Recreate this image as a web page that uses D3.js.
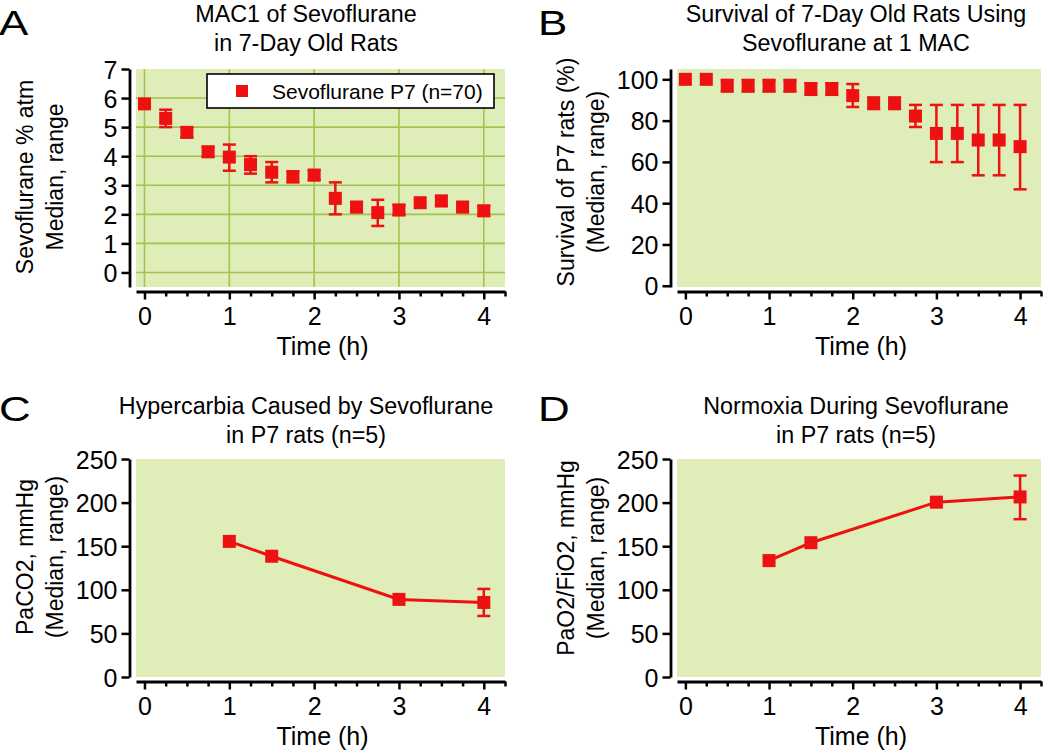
<!DOCTYPE html>
<html><head><meta charset="utf-8">
<script src="https://cdn.jsdelivr.net/npm/d3@7"></script>
<style>
body{margin:0;background:#fff}
svg{display:block}
text{font-family:"Liberation Sans",Arial,Helvetica,sans-serif;fill:#000}
</style>
</head><body>
<svg id="chart" width="1050" height="753"></svg>
<script>
// ---------------- DATA ----------------
const timeA = [0,0.25,0.5,0.75,1,1.25,1.5,1.75,2,2.25,2.5,2.75,3,3.25,3.5,3.75,4];
const macMedian = [5.8,5.3,4.82,4.15,3.97,3.71,3.45,3.3,3.35,2.55,2.25,2.06,2.15,2.4,2.46,2.25,2.12];
const macLow    = [5.8,5.0,4.65,3.98,3.5,3.4,3.1,3.1,3.18,2.0,2.08,1.6,1.98,2.4,2.29,2.08,1.95];
const macHigh   = [5.8,5.6,4.98,4.32,4.4,4.0,3.8,3.48,3.52,3.1,2.42,2.5,2.32,2.4,2.63,2.42,2.29];

const timeB = [0,0.25,0.5,0.75,1,1.25,1.5,1.75,2,2.25,2.5,2.75,3,3.25,3.5,3.75,4];
const survMedian = [100,100,96.9,96.9,96.9,96.9,95.3,95.3,92.1,88.4,88.4,82.2,73.8,73.8,70.6,70.6,67.4];
const survLow    = [100,100,94.1,94.1,94.1,94.1,92.5,92.5,86.6,85.6,85.6,76.9,59.9,59.9,53.5,53.5,46.7];
const survHigh   = [100,100,99.7,99.7,99.7,99.7,98.1,98.1,97.7,91.2,91.2,87.6,87.6,87.6,87.6,87.6,87.6];

const timeGas = [1,1.5,3,4];
const paco2Median = [155.5,138.5,89,85.5];
const paco2Low    = [155.5,138.5,89,70];
const paco2High   = [155.5,138.5,89,101];

const pao2Median = [133.5,154,200.5,206.5];
const pao2Low    = [133.5,154,200.5,181];
const pao2High   = [133.5,154,200.5,231];

const xTickValues = [0,1,2,3,4];
const xMinorTicks = [0.25,0.5,0.75,1.25,1.5,1.75,2.25,2.5,2.75,3.25,3.5,3.75,4.25];
const yTicksA = [0,1,2,3,4,5,6,7];
const yTicksB = [0,20,40,60,80,100];
const yTicksGas = [0,50,100,150,200,250];

const titleA = ["MAC1 of Sevoflurane","in 7-Day Old Rats"];
const titleB = ["Survival of 7-Day Old Rats Using","Sevoflurane at 1 MAC"];
const titleC = ["Hypercarbia Caused by Sevoflurane","in P7 rats (n=5)"];
const titleD = ["Normoxia During Sevoflurane","in P7 rats (n=5)"];
const yTitleA = ["Sevoflurane % atm","Median, range"];
const yTitleB = ["Survival of P7 rats (%)","(Median, range)"];
const yTitleC = ["PaCO2, mmHg","(Median, range)"];
const yTitleD = ["PaO2/FiO2, mmHg","(Median, range)"];
const xTitle = "Time (h)";
const legendLabel = "Sevoflurane P7 (n=70)";
const panelLetters = ["A","B","C","D"];

// ---------------- STYLE ----------------
const BG = "#dfedb8", GRID = "#a6c24e", RED = "#ee1111";
const svg = d3.select("#chart");

function drawPanel(o){
  const g = svg.append("g");
  const x = d3.scaleLinear().domain([-0.1,4.25]).range([o.left,o.right]);
  const y = d3.scaleLinear().domain(o.yDomain).range([o.bottom,o.top]);

  g.append("rect").attr("x",o.left).attr("y",o.top)
    .attr("width",o.right-o.left).attr("height",o.bottom-o.top).attr("fill",BG);

  if(o.grid){
    g.selectAll(".gv").data(xTickValues).join("line")
      .attr("x1",d=>x(d)).attr("x2",d=>x(d)).attr("y1",o.top).attr("y2",o.bottom)
      .attr("stroke",GRID).attr("stroke-width",1.6);
    g.selectAll(".gh").data(o.gridY).join("line")
      .attr("y1",d=>y(d)).attr("y2",d=>y(d)).attr("x1",o.left).attr("x2",o.right)
      .attr("stroke",GRID).attr("stroke-width",1.6);
  }

  // y axis
  const yAx = g.append("g").attr("transform",`translate(${o.left-6.5},0)`)
    .call(d3.axisLeft(y).tickValues(o.yTicks).tickSize(8).tickSizeOuter(0).tickPadding(4).tickFormat(d3.format("d")));
  yAx.select(".domain").attr("stroke","#000").attr("stroke-width",2.8);
  yAx.selectAll(".tick line").attr("stroke","#000").attr("stroke-width",2.5);
  yAx.selectAll(".tick text").attr("font-size",25).attr("font-family",null).attr("dy","0.36em");

  // x axis
  const axY = o.bottom+4.5;
  const xAx = g.append("g").attr("transform",`translate(0,${axY})`)
    .call(d3.axisBottom(x).tickValues(xTickValues).tickSize(8).tickSizeOuter(0).tickFormat(d3.format("d")));
  xAx.select(".domain").attr("stroke","#000").attr("stroke-width",2.8);
  xAx.selectAll(".tick line").attr("stroke","#000").attr("stroke-width",2.5);
  xAx.selectAll(".tick text").attr("font-size",25).attr("font-family",null)
    .attr("y",33).attr("dy",null);
  const xMin = g.append("g").attr("transform",`translate(0,${axY})`)
    .call(d3.axisBottom(x).tickValues(xMinorTicks).tickSize(5).tickSizeOuter(0).tickFormat(""));
  xMin.select(".domain").remove();
  xMin.selectAll(".tick line").attr("stroke","#000").attr("stroke-width",2.5);

  const pts = o.t.map((t,i)=>({t,m:o.med[i],lo:o.lo[i],hi:o.hi[i]}));

  if(o.line){
    g.append("path").datum(pts)
      .attr("d",d3.line().x(d=>x(d.t)).y(d=>y(d.m)))
      .attr("fill","none").attr("stroke",RED).attr("stroke-width",3);
  }
  const eb = pts.filter(d=>d.hi>d.lo);
  g.selectAll(".ebv").data(eb).join("line")
    .attr("x1",d=>x(d.t)).attr("x2",d=>x(d.t)).attr("y1",d=>y(d.lo)).attr("y2",d=>y(d.hi))
    .attr("stroke",RED).attr("stroke-width",2.5);
  ["lo","hi"].forEach(k=>{
    g.selectAll(".cap"+k).data(eb).join("line")
      .attr("x1",d=>x(d.t)-6.5).attr("x2",d=>x(d.t)+6.5).attr("y1",d=>y(d[k])).attr("y2",d=>y(d[k]))
      .attr("stroke",RED).attr("stroke-width",2.5);
  });
  g.selectAll(".mk").data(pts).join("rect")
    .attr("x",d=>x(d.t)-6.5).attr("y",d=>y(d.m)-6.5).attr("width",13).attr("height",13)
    .attr("fill",RED);

  // titles
  o.title.forEach((s,i)=>{
    g.append("text").attr("x",o.titleX).attr("y",o.titleY+i*29)
      .attr("text-anchor","middle").attr("font-size",23.3).text(s);
  });
  const axX = o.left-6.5;
  o.yTitle.forEach((s,i)=>{
    const bx = axX - (i===0?97:67);
    g.append("text").attr("transform",`translate(${bx},${o.yTitleC}) rotate(-90)`)
      .attr("text-anchor","middle").attr("font-size",23).text(s);
  });
  g.append("text").attr("x",(o.left+o.right)/2+2).attr("y",axY+63)
    .attr("text-anchor","middle").attr("font-size",25).text(xTitle);
  g.append("text").attr("transform",`translate(${o.letterX},${o.letterY}) scale(1.22,1)`)
    .attr("font-size",36).text(o.letter);
  return {g,x,y};
}

const pA = drawPanel({left:136,right:505,top:69,bottom:287,yDomain:[-0.5,7],yTicks:yTicksA,
  grid:true,gridY:[0,1,2,3,4,5,6],t:timeA,med:macMedian,lo:macLow,hi:macHigh,line:false,
  title:titleA,titleX:306,titleY:22,yTitle:yTitleA,yTitleC:177,letter:panelLetters[0],letterX:-1,letterY:35});
drawPanel({left:677,right:1041,top:69,bottom:287,yDomain:[-0.6,105],yTicks:yTicksB,
  grid:false,t:timeB,med:survMedian,lo:survLow,hi:survHigh,line:false,
  title:titleB,titleX:856,titleY:22,yTitle:yTitleB,yTitleC:172,letter:panelLetters[1],letterX:538,letterY:35});
drawPanel({left:136,right:505,top:459,bottom:677,yDomain:[0,250],yTicks:yTicksGas,
  grid:false,t:timeGas,med:paco2Median,lo:paco2Low,hi:paco2High,line:true,
  title:titleC,titleX:306,titleY:414,yTitle:yTitleC,yTitleC:557,letter:panelLetters[2],letterX:-1,letterY:421});
drawPanel({left:677,right:1041,top:459,bottom:677,yDomain:[0,250],yTicks:yTicksGas,
  grid:false,t:timeGas,med:pao2Median,lo:pao2Low,hi:pao2High,line:true,
  title:titleD,titleX:856,titleY:414,yTitle:yTitleD,yTitleC:558,letter:panelLetters[3],letterX:538,letterY:421});

// legend (panel A)
const lg = pA.g.append("g");
lg.append("rect").attr("x",207).attr("y",74).attr("width",287).attr("height",34)
  .attr("fill","#fff").attr("stroke","#000").attr("stroke-width",1.6);
lg.append("rect").attr("x",236).attr("y",85).attr("width",12).attr("height",12).attr("fill",RED);
lg.append("text").attr("x",272).attr("y",99).attr("font-size",21).text(legendLabel);
</script>
</body></html>
